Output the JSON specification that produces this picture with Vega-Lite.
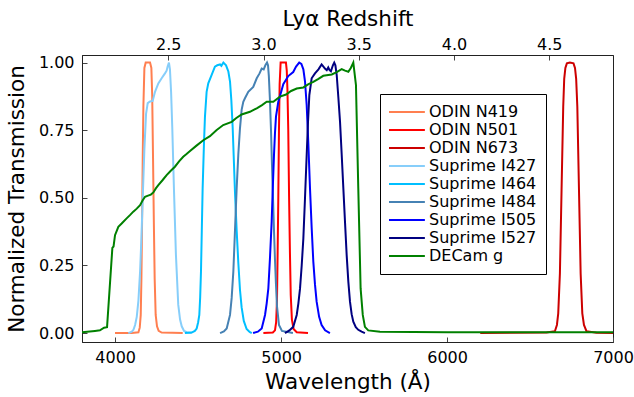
{
"$schema": "https://vega.github.io/schema/vega-lite/v6.json",
"width": 531, "height": 287,
"autosize": {"type": "none"},
"padding": {"left": 82, "top": 55, "right": 21, "bottom": 55},
"datasets": {
"filters": [
{"f":"ODIN N419","wl":3999,"T":0},{"f":"ODIN N419","wl":4100,"T":0},{"f":"ODIN N419","wl":4140,"T":0.003},{"f":"ODIN N419","wl":4148,"T":0.02},{"f":"ODIN N419","wl":4154,"T":0.067},{"f":"ODIN N419","wl":4158,"T":0.2},{"f":"ODIN N419","wl":4162,"T":0.41},{"f":"ODIN N419","wl":4166,"T":0.65},{"f":"ODIN N419","wl":4170,"T":0.84},{"f":"ODIN N419","wl":4176,"T":0.98},{"f":"ODIN N419","wl":4184,"T":1.0},{"f":"ODIN N419","wl":4210,"T":1.0},{"f":"ODIN N419","wl":4218,"T":0.98},{"f":"ODIN N419","wl":4223,"T":0.88},{"f":"ODIN N419","wl":4228,"T":0.65},{"f":"ODIN N419","wl":4233,"T":0.41},{"f":"ODIN N419","wl":4238,"T":0.2},{"f":"ODIN N419","wl":4244,"T":0.067},{"f":"ODIN N419","wl":4252,"T":0.025},{"f":"ODIN N419","wl":4262,"T":0.008},{"f":"ODIN N419","wl":4280,"T":0.002},{"f":"ODIN N419","wl":4407,"T":0},
{"f":"ODIN N501","wl":4893,"T":0},{"f":"ODIN N501","wl":4950,"T":0.002},{"f":"ODIN N501","wl":4963,"T":0.01},{"f":"ODIN N501","wl":4970,"T":0.04},{"f":"ODIN N501","wl":4975,"T":0.12},{"f":"ODIN N501","wl":4979,"T":0.3},{"f":"ODIN N501","wl":4983,"T":0.5},{"f":"ODIN N501","wl":4987,"T":0.75},{"f":"ODIN N501","wl":4991,"T":0.92},{"f":"ODIN N501","wl":4997,"T":1.0},{"f":"ODIN N501","wl":5029,"T":1.0},{"f":"ODIN N501","wl":5034,"T":0.97},{"f":"ODIN N501","wl":5038,"T":0.9},{"f":"ODIN N501","wl":5043,"T":0.75},{"f":"ODIN N501","wl":5048,"T":0.5},{"f":"ODIN N501","wl":5053,"T":0.3},{"f":"ODIN N501","wl":5058,"T":0.14},{"f":"ODIN N501","wl":5065,"T":0.05},{"f":"ODIN N501","wl":5075,"T":0.015},{"f":"ODIN N501","wl":5094,"T":0.003},{"f":"ODIN N501","wl":5162,"T":0},
{"f":"ODIN N673","wl":6200,"T":0},{"f":"ODIN N673","wl":6600,"T":0.002},{"f":"ODIN N673","wl":6650,"T":0.007},{"f":"ODIN N673","wl":6662,"T":0.03},{"f":"ODIN N673","wl":6670,"T":0.073},{"f":"ODIN N673","wl":6680,"T":0.22},{"f":"ODIN N673","wl":6690,"T":0.529},{"f":"ODIN N673","wl":6700,"T":0.837},{"f":"ODIN N673","wl":6706,"T":0.94},{"f":"ODIN N673","wl":6713,"T":0.98},{"f":"ODIN N673","wl":6722,"T":0.997},{"f":"ODIN N673","wl":6740,"T":1.0},{"f":"ODIN N673","wl":6762,"T":0.997},{"f":"ODIN N673","wl":6771,"T":0.98},{"f":"ODIN N673","wl":6778,"T":0.94},{"f":"ODIN N673","wl":6785,"T":0.837},{"f":"ODIN N673","wl":6795,"T":0.529},{"f":"ODIN N673","wl":6805,"T":0.22},{"f":"ODIN N673","wl":6815,"T":0.073},{"f":"ODIN N673","wl":6825,"T":0.03},{"f":"ODIN N673","wl":6840,"T":0.007},{"f":"ODIN N673","wl":6900,"T":0.001},{"f":"ODIN N673","wl":7100,"T":0},
{"f":"Suprime I427","wl":4079,"T":0},{"f":"Suprime I427","wl":4100,"T":0.005},{"f":"Suprime I427","wl":4110,"T":0.012},{"f":"Suprime I427","wl":4120,"T":0.03},{"f":"Suprime I427","wl":4130,"T":0.06},{"f":"Suprime I427","wl":4140,"T":0.12},{"f":"Suprime I427","wl":4150,"T":0.227},{"f":"Suprime I427","wl":4158,"T":0.35},{"f":"Suprime I427","wl":4166,"T":0.5},{"f":"Suprime I427","wl":4176,"T":0.68},{"f":"Suprime I427","wl":4186,"T":0.81},{"f":"Suprime I427","wl":4196,"T":0.85},{"f":"Suprime I427","wl":4210,"T":0.856},{"f":"Suprime I427","wl":4226,"T":0.858},{"f":"Suprime I427","wl":4240,"T":0.892},{"f":"Suprime I427","wl":4260,"T":0.923},{"f":"Suprime I427","wl":4280,"T":0.942},{"f":"Suprime I427","wl":4300,"T":0.96},{"f":"Suprime I427","wl":4310,"T":0.97},{"f":"Suprime I427","wl":4316,"T":0.985},{"f":"Suprime I427","wl":4324,"T":1.0},{"f":"Suprime I427","wl":4330,"T":0.975},{"f":"Suprime I427","wl":4337,"T":0.89},{"f":"Suprime I427","wl":4344,"T":0.76},{"f":"Suprime I427","wl":4354,"T":0.535},{"f":"Suprime I427","wl":4366,"T":0.29},{"f":"Suprime I427","wl":4380,"T":0.105},{"f":"Suprime I427","wl":4391,"T":0.05},{"f":"Suprime I427","wl":4401,"T":0.025},{"f":"Suprime I427","wl":4415,"T":0.008},{"f":"Suprime I427","wl":4431,"T":0.003},{"f":"Suprime I427","wl":4461,"T":0},
{"f":"Suprime I464","wl":4420,"T":0},{"f":"Suprime I464","wl":4461,"T":0.002},{"f":"Suprime I464","wl":4480,"T":0.008},{"f":"Suprime I464","wl":4491,"T":0.017},{"f":"Suprime I464","wl":4500,"T":0.04},{"f":"Suprime I464","wl":4507,"T":0.067},{"f":"Suprime I464","wl":4512,"T":0.13},{"f":"Suprime I464","wl":4517,"T":0.227},{"f":"Suprime I464","wl":4522,"T":0.38},{"f":"Suprime I464","wl":4527,"T":0.535},{"f":"Suprime I464","wl":4535,"T":0.7},{"f":"Suprime I464","wl":4541,"T":0.8},{"f":"Suprime I464","wl":4551,"T":0.892},{"f":"Suprime I464","wl":4561,"T":0.923},{"f":"Suprime I464","wl":4582,"T":0.955},{"f":"Suprime I464","wl":4601,"T":0.985},{"f":"Suprime I464","wl":4615,"T":0.99},{"f":"Suprime I464","wl":4632,"T":0.993},{"f":"Suprime I464","wl":4640,"T":0.988},{"f":"Suprime I464","wl":4652,"T":1.0},{"f":"Suprime I464","wl":4668,"T":0.99},{"f":"Suprime I464","wl":4682,"T":0.967},{"f":"Suprime I464","wl":4692,"T":0.93},{"f":"Suprime I464","wl":4700,"T":0.86},{"f":"Suprime I464","wl":4708,"T":0.76},{"f":"Suprime I464","wl":4715,"T":0.64},{"f":"Suprime I464","wl":4722,"T":0.52},{"f":"Suprime I464","wl":4732,"T":0.38},{"f":"Suprime I464","wl":4742,"T":0.26},{"f":"Suprime I464","wl":4752,"T":0.16},{"f":"Suprime I464","wl":4762,"T":0.095},{"f":"Suprime I464","wl":4775,"T":0.045},{"f":"Suprime I464","wl":4792,"T":0.015},{"f":"Suprime I464","wl":4810,"T":0.004},{"f":"Suprime I464","wl":4823,"T":0},
{"f":"Suprime I484","wl":4632,"T":0},{"f":"Suprime I484","wl":4655,"T":0.006},{"f":"Suprime I484","wl":4672,"T":0.017},{"f":"Suprime I484","wl":4692,"T":0.067},{"f":"Suprime I484","wl":4702,"T":0.13},{"f":"Suprime I484","wl":4712,"T":0.227},{"f":"Suprime I484","wl":4722,"T":0.38},{"f":"Suprime I484","wl":4732,"T":0.535},{"f":"Suprime I484","wl":4742,"T":0.66},{"f":"Suprime I484","wl":4752,"T":0.757},{"f":"Suprime I484","wl":4762,"T":0.825},{"f":"Suprime I484","wl":4772,"T":0.855},{"f":"Suprime I484","wl":4782,"T":0.868},{"f":"Suprime I484","wl":4802,"T":0.892},{"f":"Suprime I484","wl":4832,"T":0.91},{"f":"Suprime I484","wl":4853,"T":0.942},{"f":"Suprime I484","wl":4870,"T":0.96},{"f":"Suprime I484","wl":4883,"T":0.978},{"f":"Suprime I484","wl":4895,"T":0.975},{"f":"Suprime I484","wl":4905,"T":0.99},{"f":"Suprime I484","wl":4915,"T":1.0},{"f":"Suprime I484","wl":4921,"T":0.99},{"f":"Suprime I484","wl":4926,"T":0.95},{"f":"Suprime I484","wl":4932,"T":0.87},{"f":"Suprime I484","wl":4939,"T":0.75},{"f":"Suprime I484","wl":4945,"T":0.62},{"f":"Suprime I484","wl":4951,"T":0.5},{"f":"Suprime I484","wl":4957,"T":0.38},{"f":"Suprime I484","wl":4963,"T":0.27},{"f":"Suprime I484","wl":4969,"T":0.18},{"f":"Suprime I484","wl":4975,"T":0.1},{"f":"Suprime I484","wl":4987,"T":0.03},{"f":"Suprime I484","wl":5005,"T":0.008},{"f":"Suprime I484","wl":5071,"T":0},
{"f":"Suprime I505","wl":4831,"T":0},{"f":"Suprime I505","wl":4860,"T":0.005},{"f":"Suprime I505","wl":4883,"T":0.017},{"f":"Suprime I505","wl":4903,"T":0.067},{"f":"Suprime I505","wl":4913,"T":0.11},{"f":"Suprime I505","wl":4923,"T":0.165},{"f":"Suprime I505","wl":4933,"T":0.28},{"f":"Suprime I505","wl":4943,"T":0.412},{"f":"Suprime I505","wl":4950,"T":0.54},{"f":"Suprime I505","wl":4957,"T":0.658},{"f":"Suprime I505","wl":4963,"T":0.74},{"f":"Suprime I505","wl":4969,"T":0.8},{"f":"Suprime I505","wl":4983,"T":0.855},{"f":"Suprime I505","wl":4995,"T":0.88},{"f":"Suprime I505","wl":5013,"T":0.92},{"f":"Suprime I505","wl":5043,"T":0.95},{"f":"Suprime I505","wl":5073,"T":0.965},{"f":"Suprime I505","wl":5090,"T":0.985},{"f":"Suprime I505","wl":5109,"T":1.0},{"f":"Suprime I505","wl":5122,"T":0.995},{"f":"Suprime I505","wl":5134,"T":0.975},{"f":"Suprime I505","wl":5144,"T":0.93},{"f":"Suprime I505","wl":5154,"T":0.843},{"f":"Suprime I505","wl":5164,"T":0.7},{"f":"Suprime I505","wl":5174,"T":0.535},{"f":"Suprime I505","wl":5184,"T":0.39},{"f":"Suprime I505","wl":5194,"T":0.264},{"f":"Suprime I505","wl":5204,"T":0.18},{"f":"Suprime I505","wl":5214,"T":0.116},{"f":"Suprime I505","wl":5229,"T":0.06},{"f":"Suprime I505","wl":5244,"T":0.03},{"f":"Suprime I505","wl":5265,"T":0.01},{"f":"Suprime I505","wl":5294,"T":0},
{"f":"Suprime I527","wl":5023,"T":0},{"f":"Suprime I527","wl":5050,"T":0.01},{"f":"Suprime I527","wl":5073,"T":0.023},{"f":"Suprime I527","wl":5094,"T":0.067},{"f":"Suprime I527","wl":5104,"T":0.11},{"f":"Suprime I527","wl":5114,"T":0.165},{"f":"Suprime I527","wl":5124,"T":0.25},{"f":"Suprime I527","wl":5134,"T":0.35},{"f":"Suprime I527","wl":5144,"T":0.5},{"f":"Suprime I527","wl":5154,"T":0.658},{"f":"Suprime I527","wl":5162,"T":0.78},{"f":"Suprime I527","wl":5170,"T":0.88},{"f":"Suprime I527","wl":5184,"T":0.942},{"f":"Suprime I527","wl":5204,"T":0.96},{"f":"Suprime I527","wl":5225,"T":0.975},{"f":"Suprime I527","wl":5244,"T":0.993},{"f":"Suprime I527","wl":5255,"T":0.985},{"f":"Suprime I527","wl":5264,"T":0.978},{"f":"Suprime I527","wl":5275,"T":0.972},{"f":"Suprime I527","wl":5284,"T":0.982},{"f":"Suprime I527","wl":5292,"T":0.972},{"f":"Suprime I527","wl":5300,"T":0.968},{"f":"Suprime I527","wl":5312,"T":0.99},{"f":"Suprime I527","wl":5320,"T":1.0},{"f":"Suprime I527","wl":5327,"T":0.99},{"f":"Suprime I527","wl":5335,"T":0.954},{"f":"Suprime I527","wl":5345,"T":0.87},{"f":"Suprime I527","wl":5355,"T":0.781},{"f":"Suprime I527","wl":5365,"T":0.66},{"f":"Suprime I527","wl":5375,"T":0.535},{"f":"Suprime I527","wl":5385,"T":0.41},{"f":"Suprime I527","wl":5395,"T":0.288},{"f":"Suprime I527","wl":5405,"T":0.19},{"f":"Suprime I527","wl":5415,"T":0.116},{"f":"Suprime I527","wl":5425,"T":0.07},{"f":"Suprime I527","wl":5435,"T":0.042},{"f":"Suprime I527","wl":5450,"T":0.022},{"f":"Suprime I527","wl":5465,"T":0.012},{"f":"Suprime I527","wl":5485,"T":0.005},{"f":"Suprime I527","wl":5505,"T":0},
{"f":"DECam g","wl":3800,"T":0.003},{"f":"DECam g","wl":3878,"T":0.008},{"f":"DECam g","wl":3908,"T":0.01},{"f":"DECam g","wl":3933,"T":0.02},{"f":"DECam g","wl":3951,"T":0.022},{"f":"DECam g","wl":3983,"T":0.315},{"f":"DECam g","wl":3990,"T":0.32},{"f":"DECam g","wl":3999,"T":0.362},{"f":"DECam g","wl":4019,"T":0.393},{"f":"DECam g","wl":4039,"T":0.405},{"f":"DECam g","wl":4069,"T":0.424},{"f":"DECam g","wl":4089,"T":0.436},{"f":"DECam g","wl":4109,"T":0.449},{"f":"DECam g","wl":4130,"T":0.46},{"f":"DECam g","wl":4150,"T":0.473},{"f":"DECam g","wl":4165,"T":0.49},{"f":"DECam g","wl":4180,"T":0.504},{"f":"DECam g","wl":4198,"T":0.508},{"f":"DECam g","wl":4215,"T":0.512},{"f":"DECam g","wl":4230,"T":0.52},{"f":"DECam g","wl":4245,"T":0.535},{"f":"DECam g","wl":4260,"T":0.547},{"f":"DECam g","wl":4285,"T":0.565},{"f":"DECam g","wl":4310,"T":0.584},{"f":"DECam g","wl":4335,"T":0.6},{"f":"DECam g","wl":4360,"T":0.615},{"f":"DECam g","wl":4385,"T":0.635},{"f":"DECam g","wl":4410,"T":0.652},{"f":"DECam g","wl":4430,"T":0.662},{"f":"DECam g","wl":4451,"T":0.673},{"f":"DECam g","wl":4490,"T":0.693},{"f":"DECam g","wl":4531,"T":0.713},{"f":"DECam g","wl":4571,"T":0.728},{"f":"DECam g","wl":4610,"T":0.75},{"f":"DECam g","wl":4651,"T":0.769},{"f":"DECam g","wl":4702,"T":0.781},{"f":"DECam g","wl":4730,"T":0.795},{"f":"DECam g","wl":4762,"T":0.808},{"f":"DECam g","wl":4812,"T":0.818},{"f":"DECam g","wl":4853,"T":0.831},{"f":"DECam g","wl":4885,"T":0.843},{"f":"DECam g","wl":4913,"T":0.855},{"f":"DECam g","wl":4953,"T":0.855},{"f":"DECam g","wl":4993,"T":0.874},{"f":"DECam g","wl":5030,"T":0.882},{"f":"DECam g","wl":5060,"T":0.895},{"f":"DECam g","wl":5094,"T":0.904},{"f":"DECam g","wl":5134,"T":0.908},{"f":"DECam g","wl":5165,"T":0.92},{"f":"DECam g","wl":5194,"T":0.929},{"f":"DECam g","wl":5225,"T":0.94},{"f":"DECam g","wl":5254,"T":0.951},{"f":"DECam g","wl":5305,"T":0.956},{"f":"DECam g","wl":5335,"T":0.965},{"f":"DECam g","wl":5365,"T":0.976},{"f":"DECam g","wl":5385,"T":0.97},{"f":"DECam g","wl":5405,"T":0.966},{"f":"DECam g","wl":5420,"T":0.98},{"f":"DECam g","wl":5435,"T":1.0},{"f":"DECam g","wl":5451,"T":0.917},{"f":"DECam g","wl":5465,"T":0.535},{"f":"DECam g","wl":5479,"T":0.165},{"f":"DECam g","wl":5492,"T":0.067},{"f":"DECam g","wl":5505,"T":0.023},{"f":"DECam g","wl":5525,"T":0.01},{"f":"DECam g","wl":5596,"T":0.005},{"f":"DECam g","wl":6000,"T":0.003},{"f":"DECam g","wl":7000,"T":0.003}
]
},
"layer": [
{
"data": {"name": "filters"},
"mark": {"type": "line", "strokeWidth": 2, "clip": true},
"encoding": {
"x": {"field": "wl", "type": "quantitative", "scale": {"domain": [3800, 7000], "nice": false, "zero": false},
"axis": {"values": [4000, 5000, 6000, 7000], "format": "d", "title": "Wavelength (Å)", "labelPadding": 12, "titlePadding": 6, "labelFlush": false}},
"y": {"field": "T", "type": "quantitative", "scale": {"domain": [-0.033, 1.028], "nice": false, "zero": false},
"axis": {"values": [0, 0.25, 0.5, 0.75, 1.0], "format": ".2f", "title": "Normalized Transmission", "labelPadding": 13, "titlePadding": 10}},
"color": {"field": "f", "type": "nominal",
"scale": {"domain": ["ODIN N419","ODIN N501","ODIN N673","Suprime I427","Suprime I464","Suprime I484","Suprime I505","Suprime I527","DECam g"],
"range": ["#FF7F50","#FF0000","#CC0000","#87CEFA","#00BFFF","#4682B4","#0000FF","#000080","#008000"]},
"legend": {"title": null, "orient": "none", "legendX": 298, "legendY": 39, "symbolType": "stroke", "symbolSize": 1350, "symbolStrokeWidth": 2, "symbolOffset": -2, "clipHeight": 17.8, "rowPadding": 0, "labelOffset": 3, "padding": 9, "strokeColor": "#000000", "fillColor": "#FFFFFF", "labelFontSize": 16, "labelColor": "#000000"}}
}
},
{
"data": {"values": [{"z": 3}]},
"mark": {"type": "rule", "strokeOpacity": 0},
"encoding": {
"x": {"field": "z", "type": "quantitative", "scale": {"domain": [2.047, 4.835], "nice": false, "zero": false},
"axis": {"orient": "top", "values": [2.5, 3.0, 3.5, 4.0, 4.5], "format": ".1f", "title": "Lyα Redshift", "labelPadding": 8, "titlePadding": 6, "labelFlush": false}}
}
}
],
"resolve": {"scale": {"x": "independent"}, "axis": {"x": "independent"}},
"config": {
"font": "DejaVu Sans",
"view": {"stroke": "#222222", "strokeWidth": 1},
"axis": {"grid": false, "domainColor": "#222222", "tickColor": "#444444", "tickSize": -5, "labelFontSize": 16, "labelColor": "#000000", "titleFontSize": 21.5, "titleFontWeight": "normal", "titleColor": "#000000", "labelFont": "DejaVu Sans", "titleFont": "DejaVu Sans"},
"legend": {"labelFont": "DejaVu Sans"}
}
}
